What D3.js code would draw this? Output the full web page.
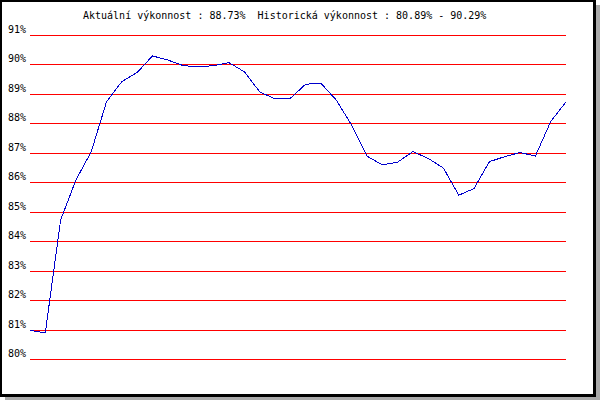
<!DOCTYPE html>
<html>
<head>
<meta charset="utf-8">
<script src="https://cdn.jsdelivr.net/npm/d3@7"></script>
<style>
  html, body { margin: 0; padding: 0; background: #fff; }
  svg { display: block; }
  text { font-family: "DejaVu Sans Mono", monospace; font-size: 10px; fill: #000; white-space: pre; }
</style>
</head>
<body>
<svg id="chart" width="600" height="400"></svg>
<script>
const title = "Aktuální výkonnost : 88.73%  Historická výkonnost : 80.89% - 90.29%";
const tickValues = [91, 90, 89, 88, 87, 86, 85, 84, 83, 82, 81, 80];
const tickLabels = ["91%", "90%", "89%", "88%", "87%", "86%", "85%", "84%", "83%", "82%", "81%", "80%"];
const performance = [
  80.97, 80.89, 84.72, 86.08, 87.04, 88.74, 89.42, 89.73, 90.29, 90.15,
  89.96, 89.92, 89.96, 90.06, 89.75, 89.07, 88.83, 88.85, 89.33, 89.36,
  88.79, 87.94, 86.89, 86.59, 86.68, 87.04, 86.81, 86.48, 85.56, 85.79,
  86.70, 86.87, 87.01, 86.89, 88.06, 88.73
];

const svg = d3.select("#chart");

// shadow + frame
svg.append("rect").attr("x", 5).attr("y", 5).attr("width", 595).attr("height", 395).attr("fill", "#aaaaaa");
svg.append("rect").attr("x", 0).attr("y", 0).attr("width", 596).attr("height", 397).attr("fill", "#000");
svg.append("rect").attr("x", 2).attr("y", 2).attr("width", 591).attr("height", 392).attr("fill", "#fff");

const x = d3.scaleLinear().domain([0, performance.length - 1]).range([30, 566]);
const y = d3.scaleLinear().domain([80, 91]).range([359, 35]);

// title
svg.append("text").attr("x", 83).attr("y", 19)
  .attr("xml:space", "preserve")
  .text(title);

// gridlines
const grid = svg.append("g");
grid.selectAll("line").data(tickValues).join("line")
  .attr("x1", 30).attr("x2", 566)
  .attr("y1", d => Math.round(y(d)) + 0.5)
  .attr("y2", d => Math.round(y(d)) + 0.5)
  .attr("stroke", "#ff0000").attr("stroke-width", 1)
  .attr("shape-rendering", "crispEdges");

// labels
grid.selectAll("text").data(tickValues).join("text")
  .attr("x", 8)
  .attr("y", d => Math.round(y(d)) - 2)
  .text((d, i) => tickLabels[i]);

// line
const line = d3.line().x((d, i) => x(i)).y(d => y(d));
svg.append("path").datum(performance)
  .attr("d", line)
  .attr("fill", "none")
  .attr("stroke", "#0000cc")
  .attr("stroke-width", 1)
  .attr("shape-rendering", "crispEdges");
</script>
</body>
</html>
